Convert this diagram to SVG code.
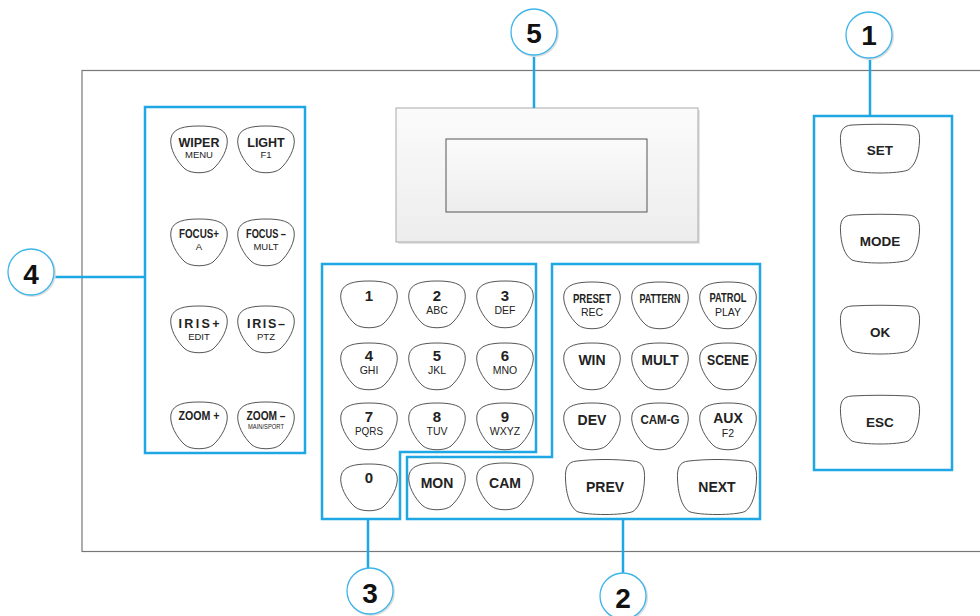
<svg xmlns="http://www.w3.org/2000/svg" xmlns:xlink="http://www.w3.org/1999/xlink" width="980" height="616" viewBox="0 0 980 616">
<style>
text{font-family:"Liberation Sans",Arial,sans-serif;text-anchor:middle;fill:#222}
.m{font-size:12.5px;font-weight:bold}
.k{font-size:14px;font-weight:bold}
.d{font-size:15px;font-weight:bold}
.s{font-size:9.5px}
.t{font-size:10.5px}
.n{font-size:28px;font-weight:bold;fill:#111}
.btn{fill:#fff;stroke:#555;stroke-width:1}
.grp{fill:none;stroke:#1ea7e4;stroke-width:2.5}
.lead{stroke:#1ea7e4;stroke-width:2.5;fill:none}
.co{fill:#fff;stroke:#3db5ea;stroke-width:1.3}
.sh{fill:none;stroke:#ddd;stroke-width:2}
</style>
<defs>
<path id="rb" class="btn" d="M0,-24 C14,-24 26,-22 28,-12 C30,-2 22,12 14,19 C8,24 -8,24 -14,19 C-22,12 -30,-2 -28,-12 C-26,-22 -14,-24 0,-24Z"/>
<path id="wb" class="btn" d="M-28,-24 C-10,-25 10,-25 28,-24 C38,-23.5 40,-17 39.5,-8 C39,4 36,16 28,21 C18,25 -18,25 -28,21 C-36,16 -39,4 -39.5,-8 C-40,-17 -38,-23.5 -28,-24Z"/>
<path id="wb2" class="btn" d="M-28,-27 C-10,-29 10,-29 28,-27 C38,-26.5 40,-19 39.5,-9 C39,4 36,18 28,23.5 C18,27.5 -18,27.5 -28,23.5 C-36,18 -39,4 -39.5,-9 C-40,-19 -38,-26.5 -28,-27Z"/>
<linearGradient id="gd" x1="0" y1="0" x2="0" y2="1"><stop offset="0" stop-color="#fbfbfb"/><stop offset="1" stop-color="#ededed"/></linearGradient>
</defs>

<g id="panel">
<rect x="82" y="70.5" width="920" height="481" fill="#fff" stroke="#777" stroke-width="1.2"/>
</g>

<g id="display">
<rect x="398" y="110" width="302" height="134" fill="#e4e4e4"/>
<rect x="396" y="108" width="302" height="134" fill="url(#gd)" stroke="#aaa" stroke-width="1"/>
<rect x="446" y="139" width="201" height="73" fill="url(#gd)" stroke="#555" stroke-width="1"/>
</g>

<g id="group-boxes">
<rect class="grp" x="145" y="107" width="160" height="346"/>
<polygon class="grp" points="322,264 536,264 536,452 400,452 400,519 322,519"/>
<polygon class="grp" points="552,264 760,264 760,519 407,519 407,457 552,457"/>
<rect class="grp" x="814" y="116" width="138" height="354"/>
</g>

<g id="connectors">
<line class="lead" x1="534" y1="55" x2="534" y2="108"/>
<line class="lead" x1="870" y1="58" x2="870" y2="116"/>
<line class="lead" x1="54" y1="277" x2="145" y2="277"/>
<line class="lead" x1="368" y1="519" x2="368" y2="569"/>
<line class="lead" x1="623" y1="519" x2="623" y2="573"/>
</g>

<g id="callout-5"><circle class="sh" cx="535" cy="33" r="23"/><circle class="co" cx="534" cy="32" r="23"/><text class="n" x="534" y="43">5</text></g>
<g id="callout-1"><circle class="sh" cx="870" cy="36" r="23"/><circle class="co" cx="869" cy="35" r="23"/><text class="n" x="869" y="45">1</text></g>
<g id="callout-4"><circle class="sh" cx="32" cy="273" r="23"/><circle class="co" cx="31" cy="272" r="23"/><text class="n" x="31" y="284">4</text></g>
<g id="callout-3"><circle class="sh" cx="371" cy="592" r="23"/><circle class="co" cx="370" cy="591" r="23"/><text class="n" x="370" y="603">3</text></g>
<g id="callout-2"><circle class="sh" cx="624" cy="597" r="23"/><circle class="co" cx="623" cy="596" r="23"/><text class="n" x="623" y="608">2</text></g>

<!-- group 4 -->
<g id="btn-wiper"><use xlink:href="#rb" x="199" y="150"/><text class="m" x="199" y="147">WIPER</text><text class="s" x="199" y="158">MENU</text></g>
<g id="btn-light"><use xlink:href="#rb" x="266" y="150"/><text class="m" x="266" y="147">LIGHT</text><text class="s" x="266" y="158">F1</text></g>
<g id="btn-focus-plus"><use xlink:href="#rb" x="199" y="243"/><text class="m" x="199" y="238" textLength="40" lengthAdjust="spacingAndGlyphs">FOCUS+</text><text class="s" x="199" y="250">A</text></g>
<g id="btn-focus-minus"><use xlink:href="#rb" x="266" y="243"/><text class="m" x="266" y="238" textLength="40" lengthAdjust="spacingAndGlyphs">FOCUS –</text><text class="s" x="266" y="250">MULT</text></g>
<g id="btn-iris-plus"><use xlink:href="#rb" x="199" y="330"/><text class="m" x="199" y="328" textLength="41" lengthAdjust="spacing">IRIS+</text><text class="s" x="199" y="340">EDIT</text></g>
<g id="btn-iris-minus"><use xlink:href="#rb" x="266" y="330"/><text class="m" x="266" y="328" textLength="38" lengthAdjust="spacing">IRIS–</text><text class="s" x="266" y="340">PTZ</text></g>
<g id="btn-zoom-plus"><use xlink:href="#rb" x="199" y="426"/><text class="m" x="199" y="420" textLength="41" lengthAdjust="spacingAndGlyphs">ZOOM +</text></g>
<g id="btn-zoom-minus"><use xlink:href="#rb" x="266" y="426"/><text class="m" x="266" y="420" textLength="39" lengthAdjust="spacingAndGlyphs">ZOOM –</text><text x="266" y="428.5" style="font-size:6.5px" textLength="36" lengthAdjust="spacingAndGlyphs">MAIN/SPORT</text></g>

<!-- group 3 keypad -->
<g id="key-1"><use xlink:href="#rb" x="369" y="305"/><text class="d" x="369" y="301">1</text></g>
<g id="key-2"><use xlink:href="#rb" x="437" y="305"/><text class="d" x="437" y="301">2</text><text class="t" x="437" y="314">ABC</text></g>
<g id="key-3"><use xlink:href="#rb" x="505" y="305"/><text class="d" x="505" y="301">3</text><text class="t" x="505" y="314">DEF</text></g>
<g id="key-4"><use xlink:href="#rb" x="369" y="367"/><text class="d" x="369" y="361">4</text><text class="t" x="369" y="374">GHI</text></g>
<g id="key-5"><use xlink:href="#rb" x="437" y="367"/><text class="d" x="437" y="361">5</text><text class="t" x="437" y="374">JKL</text></g>
<g id="key-6"><use xlink:href="#rb" x="505" y="367"/><text class="d" x="505" y="361">6</text><text class="t" x="505" y="374">MNO</text></g>
<g id="key-7"><use xlink:href="#rb" x="369" y="427"/><text class="d" x="369" y="422">7</text><text class="t" x="369" y="435" textLength="28" lengthAdjust="spacingAndGlyphs">PQRS</text></g>
<g id="key-8"><use xlink:href="#rb" x="437" y="427"/><text class="d" x="437" y="422">8</text><text class="t" x="437" y="435">TUV</text></g>
<g id="key-9"><use xlink:href="#rb" x="505" y="427"/><text class="d" x="505" y="422">9</text><text class="t" x="505" y="435">WXYZ</text></g>
<g id="key-0"><use xlink:href="#rb" x="369" y="488"/><text class="d" x="369" y="483">0</text></g>

<!-- group 2 -->
<g id="btn-preset"><use xlink:href="#rb" x="592" y="306"/><text class="m" x="592" y="303" textLength="38" lengthAdjust="spacingAndGlyphs">PRESET</text><text class="t" x="592" y="316">REC</text></g>
<g id="btn-pattern"><use xlink:href="#rb" x="660" y="306"/><text class="m" x="660" y="303" textLength="41" lengthAdjust="spacingAndGlyphs">PATTERN</text></g>
<g id="btn-patrol"><use xlink:href="#rb" x="728" y="306"/><text class="m" x="728" y="302" textLength="37" lengthAdjust="spacingAndGlyphs">PATROL</text><text class="t" x="728" y="316">PLAY</text></g>
<g id="btn-win"><use xlink:href="#rb" x="592" y="367"/><text class="k" x="592" y="365">WIN</text></g>
<g id="btn-mult"><use xlink:href="#rb" x="660" y="367"/><text class="k" x="660" y="365" textLength="37" lengthAdjust="spacingAndGlyphs">MULT</text></g>
<g id="btn-scene"><use xlink:href="#rb" x="728" y="367"/><text class="k" x="728" y="365" textLength="42" lengthAdjust="spacingAndGlyphs">SCENE</text></g>
<g id="btn-dev"><use xlink:href="#rb" x="592" y="427"/><text class="k" x="592" y="425">DEV</text></g>
<g id="btn-cam-g"><use xlink:href="#rb" x="660" y="427"/><text class="m" x="660" y="424" textLength="39" lengthAdjust="spacingAndGlyphs">CAM-G</text></g>
<g id="btn-aux"><use xlink:href="#rb" x="728" y="427"/><text class="k" x="728" y="423">AUX</text><text class="t" x="728" y="437">F2</text></g>
<g id="btn-mon"><use xlink:href="#rb" x="437" y="487"/><text class="k" x="437" y="488">MON</text></g>
<g id="btn-cam"><use xlink:href="#rb" x="505" y="487"/><text class="k" x="505" y="488">CAM</text></g>
<g id="btn-prev"><use xlink:href="#wb2" x="605" y="488"/><text class="k" x="605" y="492">PREV</text></g>
<g id="btn-next"><use xlink:href="#wb2" x="717" y="488"/><text class="k" x="717" y="492">NEXT</text></g>

<!-- group 1 -->
<g id="btn-set"><use xlink:href="#wb" x="880" y="149"/><text class="k" x="880" y="155" style="font-size:13.5px">SET</text></g>
<g id="btn-mode"><use xlink:href="#wb" x="880" y="239"/><text class="k" x="880" y="246" style="font-size:13.5px">MODE</text></g>
<g id="btn-ok"><use xlink:href="#wb" x="880" y="330"/><text class="k" x="880" y="337" style="font-size:13.5px">OK</text></g>
<g id="btn-esc"><use xlink:href="#wb" x="880" y="420"/><text class="k" x="880" y="427" style="font-size:13.5px">ESC</text></g>
</svg>
